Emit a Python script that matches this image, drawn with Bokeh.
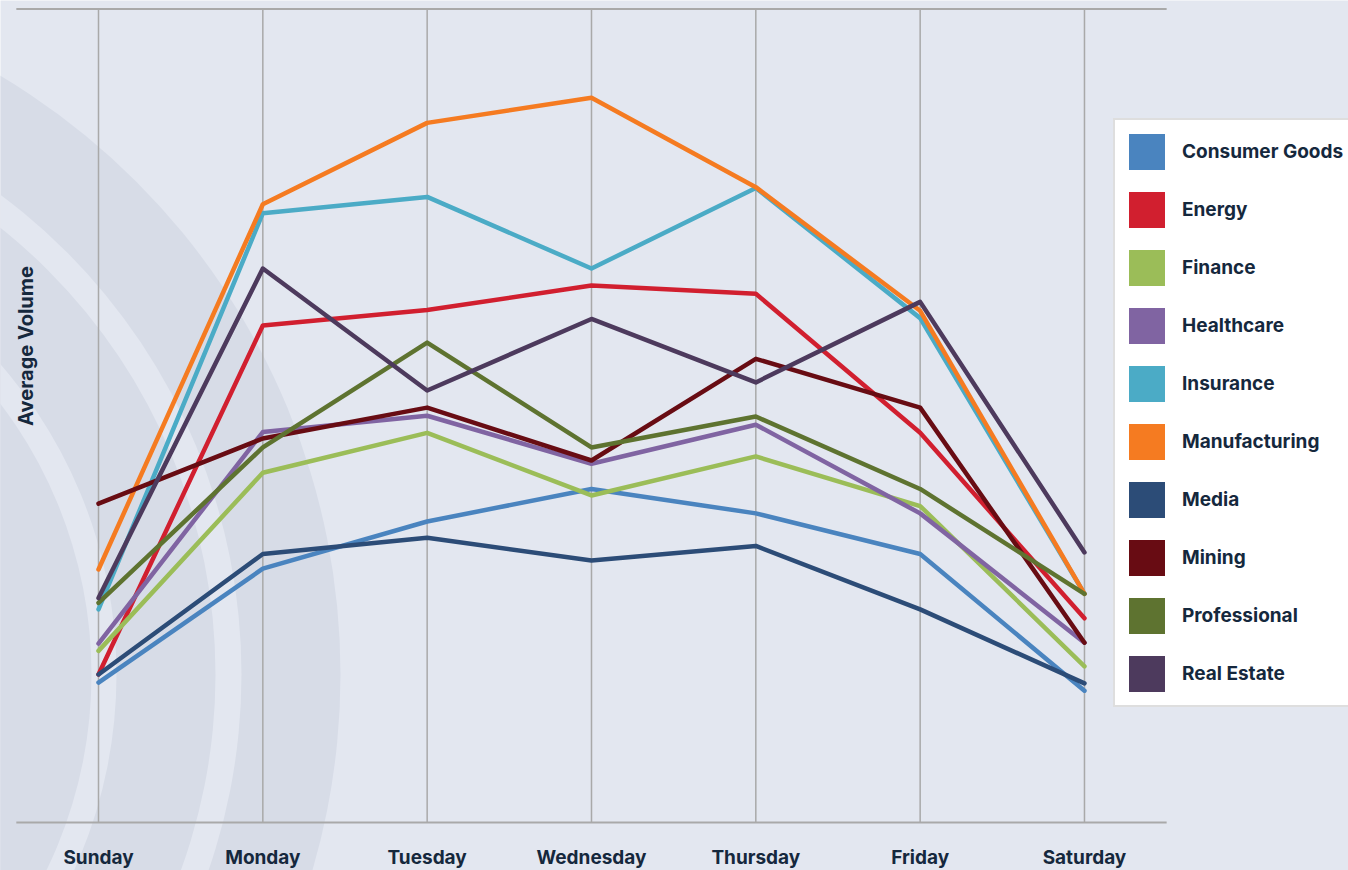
import numpy as np
from bokeh.plotting import figure
from bokeh.models import Range1d, Legend, LegendItem, Label, ColumnDataSource
from bokeh.core.properties import value
from bokeh.embed import file_html
from bokeh.resources import INLINE

# ---------------- data ----------------
days = ["Sunday", "Monday", "Tuesday", "Wednesday", "Thursday", "Friday", "Saturday"]
sectors = ["Consumer Goods", "Energy", "Finance", "Healthcare", "Insurance",
           "Manufacturing", "Media", "Mining", "Professional", "Real Estate"]

consumer_goods = [17.2, 31.2, 37.0, 41.0, 38.0, 33.0, 16.2]
energy         = [18.2, 61.1, 63.0, 66.0, 65.0, 47.9, 25.1]
finance        = [21.1, 43.0, 47.9, 40.2, 45.0, 38.9, 19.2]
healthcare     = [22.0, 48.0, 50.0, 44.1, 48.9, 38.0, 22.1]
insurance      = [26.2, 74.9, 76.9, 68.1, 78.0, 62.0, 28.1]
manufacturing  = [31.1, 76.0, 86.0, 89.1, 78.1, 62.9, 28.1]
media          = [18.2, 33.0, 35.0, 32.2, 34.0, 26.2, 17.1]
mining         = [39.2, 47.2, 51.0, 44.5, 57.0, 51.0, 22.1]
professional   = [27.0, 46.1, 59.0, 46.1, 49.9, 41.0, 28.1]
real_estate    = [27.6, 68.1, 53.1, 61.9, 54.1, 64.0, 33.2]

series = [consumer_goods, energy, finance, healthcare, insurance,
          manufacturing, media, mining, professional, real_estate]
colors = ["#4a84bf", "#d11f2f", "#9bbd58", "#8064a2", "#4babc6",
          "#f57b21", "#2c4c77", "#680c13", "#5e7330", "#4d3a5d"]

y_title = "Average Volume"
y_max = 100.0   # top rule of the plot area

# ---------------- style ----------------
BG = "#e3e7f0"
BAND = "#d7dce7"
TEXT = "#15283d"
GRID = "#a9a9a9"
FONT = "Inter"

W, H = 1348, 870
px_per_day = 164.33
top_px, base_px = 8.5, 822.0
px_per_unit = (base_px - top_px) / y_max
x0_px = 98.0          # Sunday position in canvas px
x_start = -x0_px / px_per_day
x_end = x_start + W / px_per_day
y_end = y_max + top_px / px_per_unit
y_start = y_end - H / px_per_unit


def sx(px):
    return x_start + px / px_per_day


def sy(py):
    return y_end - py / px_per_unit


p = figure(width=W, height=H, output_backend="svg", toolbar_location=None,
           x_range=Range1d(x_start, x_end), y_range=Range1d(y_start, y_end),
           x_axis_type=None, y_axis_type=None, min_border=0,
           background_fill_color=BG, border_fill_color=BG, outline_line_color=None)

# decorative concentric bands (background ornament)
for r, c in [(697, BAND), (598, BG), (572, BAND), (473, BG), (448, BAND)]:
    p.circle(x=[sx(-357)], y=[sy(674)], radius=r, radius_units="screen",
             fill_color=c, line_color=None)

idx = list(range(len(days)))

# vertical grid lines and top/bottom rules
p.segment(x0=idx, x1=idx, y0=[0] * len(idx), y1=[y_max] * len(idx),
          line_color=GRID, line_width=1.5)
left_edge, right_edge = -0.5, len(days) - 0.5
p.segment(x0=[left_edge, left_edge], x1=[right_edge, right_edge],
          y0=[0, y_max], y1=[0, y_max], line_color=GRID, line_width=2)

# series lines
items = []
for name, vals, c in zip(sectors, series, colors):
    src = ColumnDataSource(dict(x=idx, y=vals))
    p.line("x", "y", source=src, line_color=c, line_width=4.5,
           line_cap="round", line_join="round")
    sw = p.quad(left=[np.nan], right=[np.nan], bottom=[np.nan], top=[np.nan],
                fill_color=c, line_color=None)
    items.append(LegendItem(label=name, renderers=[sw]))

# day labels
p.text(x=idx, y=[sy(857)] * len(idx), text=days, text_font=value(FONT),
       text_font_style="bold", text_font_size="19px", text_color=TEXT,
       text_align="center", text_baseline="middle")

# y title
p.add_layout(Label(x=sx(25.5), y=sy(345.5),
                   text=y_title, angle=np.pi / 2, text_font=FONT,
                   text_font_style="bold", text_font_size="20px",
                   text_color=TEXT, text_align="center", text_baseline="middle"))

legend = Legend(items=items, location=(1113, H - 707), orientation="vertical",
                glyph_width=45, glyph_height=45, spacing=13, padding=9,
                label_standoff=13, margin=0,
                label_text_font=FONT, label_text_font_style="bold",
                label_text_font_size="19px", label_text_color=TEXT,
                background_fill_color="white", background_fill_alpha=1.0,
                border_line_color="#bdbdbd", border_line_width=2)
p.add_layout(legend)

html = file_html(p, INLINE)
open("out.html", "w").write(html)
